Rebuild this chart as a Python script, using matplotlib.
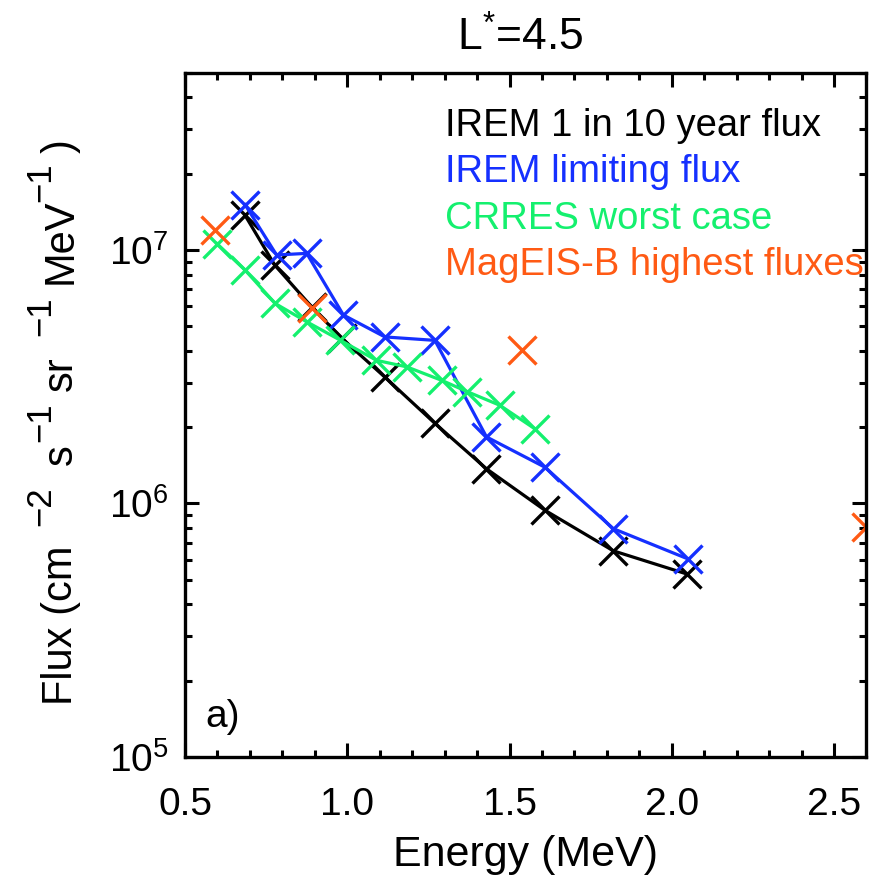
import matplotlib.pyplot as plt
from matplotlib.ticker import LogLocator, MultipleLocator, NullFormatter

# Energies (MeV) and fluxes (cm^-2 s^-1 sr^-1 MeV^-1)
irem_10yr_E = [0.685, 0.777, 0.890, 0.983, 1.116, 1.270, 1.429, 1.609, 1.820, 2.046]
irem_10yr_F = [1.37e7, 8.7e6, 5.97e6, 4.48e6, 3.15e6, 2.07e6, 1.37e6, 9.4e5, 6.5e5, 5.27e5]

irem_lim_E = [0.685, 0.782, 0.875, 0.988, 1.116, 1.270, 1.429, 1.609, 1.820, 2.050]
irem_lim_F = [1.51e7, 9.56e6, 9.7e6, 5.54e6, 4.54e6, 4.4e6, 1.83e6, 1.39e6, 7.95e5, 6.04e5]

crres_E = [0.598, 0.685, 0.777, 0.875, 0.978, 1.090, 1.183, 1.291, 1.370, 1.470, 1.578]
crres_F = [1.06e7, 8.34e6, 6.16e6, 5.21e6, 4.41e6, 3.67e6, 3.46e6, 3.06e6, 2.76e6, 2.44e6, 1.97e6]

mageis_E = [0.592, 0.890, 1.537, 2.600]
mageis_F = [1.2e7, 5.9e6, 4.03e6, 8.1e5]

labels = ['IREM 1 in 10 year flux', 'IREM limiting flux',
          'CRRES worst case', 'MagEIS-B highest fluxes']
colors = ['black', '#1530ff', '#14f06e', '#ff5a14']

# y-axis label pieces: (text, is_superscript, start position in pixels from top)
ylabel_parts = [('Flux (cm', False, 705), ('\u22122', True, 526), ('s', False, 465),
                ('\u22121', True, 442), ('sr', False, 391), ('\u22121', True, 336),
                ('MeV', False, 284), ('\u22121', True, 202), (')', False, 153)]

plt.rcParams['font.family'] = 'Liberation Sans'
plt.rcParams['mathtext.fontset'] = 'custom'
plt.rcParams['mathtext.rm'] = 'Liberation Sans'
plt.rcParams['mathtext.it'] = 'Liberation Sans:italic'

FS = 28

fig = plt.figure(figsize=(8.77, 8.75), dpi=100)
ax = fig.add_axes([0.211, 0.135, 0.777, 0.7817])

mk = dict(marker='x', markersize=20, markeredgewidth=2.4)
ax.plot(irem_10yr_E, irem_10yr_F, color=colors[0], linewidth=2.3, **mk)
ax.plot(irem_lim_E, irem_lim_F, color=colors[1], linewidth=2.3, **mk)
ax.plot(crres_E, crres_F, color=colors[2], linewidth=2.3, **mk)
ax.plot(mageis_E, mageis_F, color=colors[3], linestyle='none', **mk)

ax.set_yscale('log')
ax.set_xlim(0.5, 2.6)
ax.set_ylim(1e5, 5e7)

ax.xaxis.set_major_locator(MultipleLocator(0.5))
ax.xaxis.set_minor_locator(MultipleLocator(0.1))
ax.xaxis.set_major_formatter(plt.FuncFormatter(lambda v, p: f'{v:.1f}'))
ax.yaxis.set_major_locator(LogLocator(base=10, numticks=10))
ax.yaxis.set_minor_locator(LogLocator(base=10, subs=range(2, 10), numticks=20))
ax.yaxis.set_minor_formatter(NullFormatter())

ax.tick_params(which='both', direction='in', top=True, right=True, width=2.2)
ax.tick_params(which='major', length=10, labelsize=FS)
ax.tick_params(axis='x', which='major', pad=22)
ax.tick_params(axis='y', which='major', pad=12)
ax.tick_params(which='minor', length=5)
for s in ax.spines.values():
    s.set_linewidth(2.4)

ax.set_xlabel('Energy (MeV)', fontsize=31, labelpad=8)
fig.text(520 / 877, 1 - 38 / 875, r'L$^{*}$=4.5', fontsize=32, ha='center', va='center')

# y label built piece by piece so the exponents stay large
W, H = fig.bbox.width, fig.bbox.height
for txt, sup, y_start in ylabel_parts:
    x = 50 if sup else 72
    fig.text(x / W, 1 - y_start / H, txt, fontsize=25 if sup else 30, rotation=90,
             rotation_mode='anchor', ha='left', va='baseline')

# coloured text legend in the upper right
for i, (lab, c) in enumerate(zip(labels, colors)):
    ax.text(0.381, 0.923 - i * 0.068, lab, color=c, fontsize=27.5,
            transform=ax.transAxes, ha='left', va='center')

ax.text(0.03, 0.058, 'a)', fontsize=FS, transform=ax.transAxes,
        ha='left', va='center')

fig.savefig('out.png', dpi=100)
